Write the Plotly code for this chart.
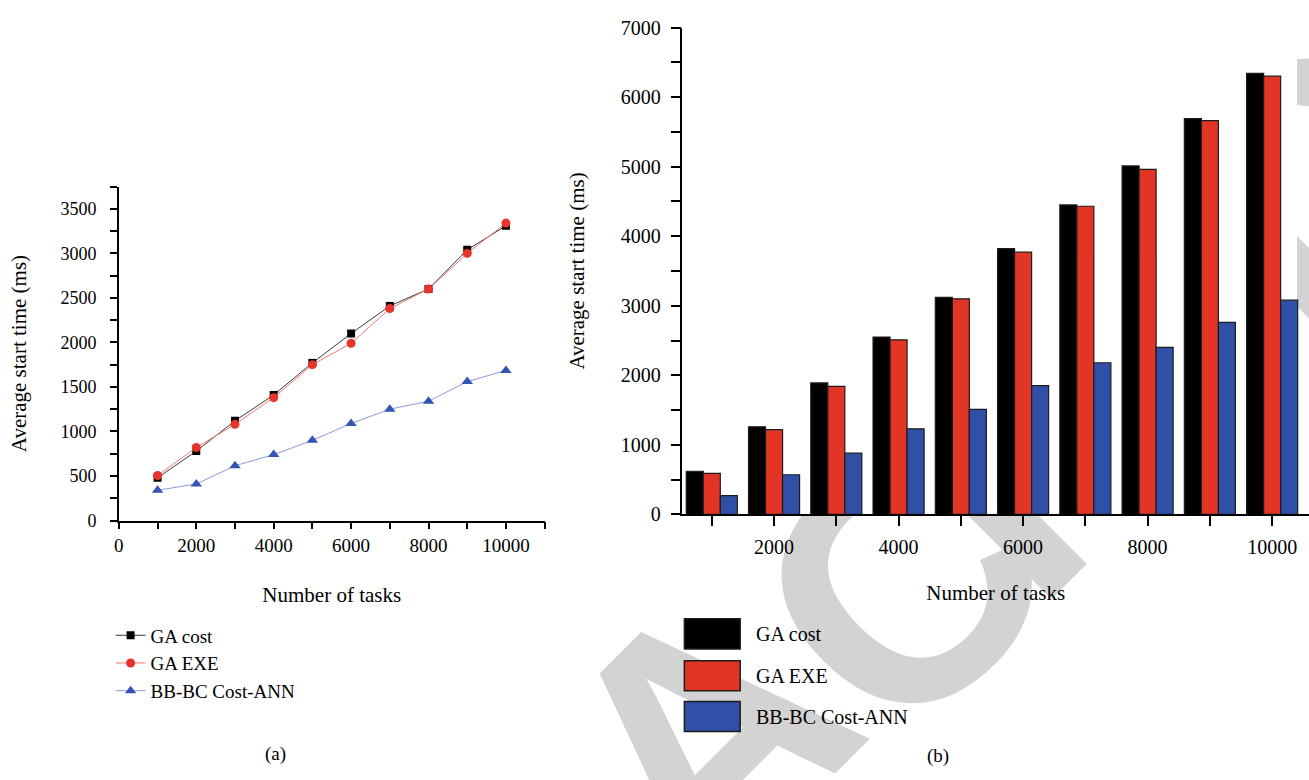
import plotly.graph_objects as go

# ---- data -------------------------------------------------------------
tasks = [1000, 2000, 3000, 4000, 5000, 6000, 7000, 8000, 9000, 10000]

# (a) line chart
line_ga_cost = [480, 780, 1120, 1410, 1770, 2100, 2410, 2600, 3040, 3310]
line_ga_exe = [505, 820, 1080, 1380, 1750, 1990, 2380, 2600, 3000, 3340]
line_bbbc = [340, 410, 615, 740, 900, 1090, 1250, 1340, 1560, 1685]

# (b) grouped bars
bar_ga_cost = [620, 1260, 1890, 2550, 3120, 3820, 4450, 5010, 5690, 6340]
bar_ga_exe = [590, 1220, 1840, 2510, 3100, 3770, 4430, 4960, 5660, 6300]
bar_bbbc = [270, 570, 880, 1230, 1510, 1850, 2180, 2400, 2760, 3080]

series_names = ["GA cost", "GA EXE", "BB-BC Cost-ANN"]
watermark_letters = ["A", "C", "T", "E", "D"]

# ---- canvas helpers (pixel -> paper) ---------------------------------
W, H = 1309, 780


def px(x):
    return x / W


def py(y):
    return 1 - y / H


SERIF = "Liberation Serif"
BLACK = "#000000"
RED = "#e23525"
BLUE = "#3050a8"

fig = go.Figure()

# ---- (a) lines ----------------------------------------------------------
fig.add_trace(go.Scatter(
    x=tasks, y=line_ga_cost, name=series_names[0], mode="lines+markers",
    line=dict(color="#3a3a3a", width=1),
    marker=dict(symbol="square", size=8, color=BLACK),
    xaxis="x", yaxis="y", legend="legend"))
fig.add_trace(go.Scatter(
    x=tasks, y=line_ga_exe, name=series_names[1], mode="lines+markers",
    line=dict(color="#f27a72", width=1),
    marker=dict(symbol="circle", size=9, color="#e8342a"),
    xaxis="x", yaxis="y", legend="legend"))
fig.add_trace(go.Scatter(
    x=tasks, y=line_bbbc, name=series_names[2], mode="lines+markers",
    line=dict(color="#8c98de", width=1),
    marker=dict(symbol="triangle-up", size=10, color="#3455b4"),
    xaxis="x", yaxis="y", legend="legend"))

# ---- (b) bars -----------------------------------------------------------
for vals, col, nm in zip([bar_ga_cost, bar_ga_exe, bar_bbbc],
                         [BLACK, RED, BLUE], series_names):
    fig.add_trace(go.Bar(
        x=tasks, y=vals, name=nm, showlegend=False,
        marker=dict(color=col, line=dict(color="#1c1c1c", width=1.2)),
        xaxis="x2", yaxis="y2"))


def axis_style(size):
    return dict(
        showline=True, linecolor=BLACK, linewidth=1.5, showgrid=False,
        zeroline=False, ticks="outside", tickcolor=BLACK, tickwidth=1.5,
        tickformat="d",
        tickfont=dict(family=SERIF, size=size, color=BLACK),
    )


fig.update_layout(
    width=W, height=H,
    margin=dict(l=0, r=0, t=0, b=0),
    paper_bgcolor="white", plot_bgcolor="white",
    font=dict(family=SERIF, color=BLACK),
    barmode="group", bargap=0.18, bargroupgap=0,
    xaxis=dict(
        **axis_style(19), domain=[px(114.3), px(541.7)], range=[0, 11000],
        tick0=0, dtick=2000, ticklen=7,
        minor=dict(dtick=1000, ticks="outside", ticklen=7, tickwidth=1.5,
                   tickcolor=BLACK),
        title=dict(text="Number of tasks", standoff=32,
                   font=dict(family=SERIF, size=21)),
        anchor="y"),
    yaxis=dict(
        **axis_style(18), domain=[py(524.3), py(180.7)], range=[0, 3750],
        tick0=0, dtick=500, ticklen=7, ticklabelstandoff=10,
        minor=dict(dtick=250, ticks="outside", ticklen=7, tickwidth=1.5,
                   tickcolor=BLACK),
        title=dict(text="Average start time (ms)", standoff=28,
                   font=dict(family=SERIF, size=21)),
        anchor="x"),
    xaxis2=dict(
        **axis_style(20), domain=[px(680), 1.0], range=[528, 10592],
        tick0=0, dtick=2000, ticklen=10, ticklabelstandoff=4,
        minor=dict(dtick=1000, ticks="outside", ticklen=10, tickwidth=1.5,
                   tickcolor=BLACK),
        title=dict(text="Number of tasks", standoff=28,
                   font=dict(family=SERIF, size=21)),
        anchor="y2"),
    yaxis2=dict(
        **axis_style(20), domain=[py(518), py(17)], range=[0, 7000],
        tick0=0, dtick=1000, ticklen=10, ticklabelstandoff=6,
        minor=dict(dtick=500, ticks="outside", ticklen=10, tickwidth=1.5,
                   tickcolor=BLACK),
        title=dict(text="Average start time (ms)", standoff=30,
                   font=dict(family=SERIF, size=21)),
        anchor="x2"),
    legend=dict(
        x=px(106), y=py(623), xanchor="left", yanchor="top",
        font=dict(family=SERIF, size=19, color=BLACK),
        bgcolor="rgba(0,0,0,0)", itemwidth=30, tracegroupgap=0),
)

shapes = []

# light grey watermark lettering behind everything
letter_centres = [(678, 722), (877, 565), (960, 476), (1116, 315), (1286, 145)]
for ch, (cx, cy) in zip(watermark_letters, letter_centres):
    shapes.append(dict(
        type="rect", xref="paper", yref="paper", layer="below",
        x0=px(cx - 1), x1=px(cx + 1), y0=py(cy + 1), y1=py(cy - 1),
        line=dict(width=0), fillcolor="rgba(0,0,0,0)",
        label=dict(text=ch, textangle=-45, textposition="middle center",
                   font=dict(family="Liberation Sans", size=345,
                             color="#d3d3d3", weight="bold"))))

# white plotting panel of (b) sits over the watermark
shapes.append(dict(
    type="rect", xref="paper", yref="paper", layer="below",
    x0=px(600), x1=px(1297), y0=py(518), y1=py(0),
    line=dict(width=0), fillcolor="white"))

# legend of (b): large swatches with labels
swatch_rows = [641, 684, 726]
annotations = []
for col, nm, yc in zip([BLACK, RED, BLUE], series_names, swatch_rows):
    shapes.append(dict(
        type="rect", xref="paper", yref="paper",
        x0=px(682), x1=px(738), y0=py(yc + 15.5), y1=py(yc - 15.5),
        line=dict(color="#1c1c1c", width=1.5), fillcolor=col))
    annotations.append(dict(
        x=px(752), y=py(yc), xref="paper", yref="paper", text=nm,
        showarrow=False, xanchor="left", yanchor="middle",
        font=dict(family=SERIF, size=20, color=BLACK)))

for txt, xc, yc in [("(a)", 272, 765), ("(b)", 937, 767)]:
    annotations.append(dict(
        x=px(xc), y=py(yc), xref="paper", yref="paper", text=txt,
        showarrow=False, xanchor="center", yanchor="middle",
        font=dict(family=SERIF, size=19, color=BLACK)))

fig.update_layout(shapes=shapes, annotations=annotations)

fig.write_html("out.html")
